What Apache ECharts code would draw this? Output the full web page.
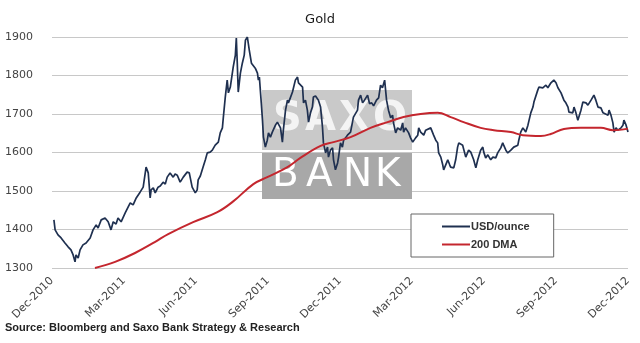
<!DOCTYPE html>
<html>
<head>
<meta charset="utf-8">
<script src="https://cdn.jsdelivr.net/npm/echarts@6/dist/echarts.min.js"></script>
<style>html,body{margin:0;padding:0;background:#fff;}#c{width:640px;height:343px;}</style>
</head>
<body>
<div id="c"></div>
<script>
// x positions are months after the Dec-2010 tick
var xLabels = ['Dec-2010','Mar-2011','Jun-2011','Sep-2011','Dec-2011','Mar-2012','Jun-2012','Sep-2012','Dec-2012'];
var yTicks = [1300,1400,1500,1600,1700,1800,1900];

var usdT = [0.08,0.13,0.25,0.38,0.46,0.54,0.67,0.79,0.88,0.96,1.00,1.09,1.17,1.29,1.42,1.50,1.59,1.71,1.84,1.92,
2.05,2.13,2.21,2.34,2.46,2.55,2.67,2.75,2.88,3.05,3.17,3.26,3.38,3.51,3.59,3.67,3.80,3.88,3.92,4.01,
4.09,4.13,4.22,4.30,4.42,4.51,4.63,4.72,4.80,4.92,5.05,5.13,5.22,5.34,5.47,5.55,5.63,5.72,5.84,5.97,
6.05,6.09,6.18,6.26,6.39,6.47,6.59,6.68,6.80,6.93,7.01,7.10,7.14,7.22,7.30,7.35,7.43,7.55,7.64,7.68,
7.72,7.76,7.85,7.93,8.01,8.06,8.14,8.22,8.31,8.39,8.47,8.56,8.60,8.64,8.72,8.77,8.81,8.89,8.97,9.02,
9.10,9.18,9.31,9.39,9.52,9.60,9.64,9.73,9.81,9.85,9.93,10.02,10.06,10.14,10.23,10.27,10.35,10.44,10.48,10.56,
10.64,10.69,10.77,10.85,10.89,10.98,11.06,11.10,11.19,11.27,11.31,11.40,11.48,11.52,11.60,11.69,11.73,11.81,11.90,11.94,
12.02,12.10,12.15,12.23,12.31,12.44,12.56,12.73,12.77,12.86,12.94,13.02,13.15,13.23,13.32,13.40,13.52,13.61,13.69,13.77,
13.86,13.90,13.94,14.02,14.11,14.19,14.23,14.32,14.40,14.53,14.61,14.65,14.73,14.86,14.94,15.03,15.07,15.15,15.24,15.28,
15.36,15.49,15.57,15.65,15.78,15.90,15.99,16.07,16.11,16.20,16.28,16.32,16.40,16.49,16.57,16.61,16.74,16.82,16.90,16.95,
17.03,17.11,17.24,17.36,17.45,17.53,17.57,17.66,17.74,17.86,17.95,17.99,18.07,18.16,18.28,18.37,18.49,18.57,18.70,18.78,
18.82,18.91,18.99,19.12,19.24,19.32,19.41,19.45,19.53,19.62,19.74,19.83,19.95,20.04,20.08,20.16,20.24,20.29,20.45,20.58,
20.66,20.79,20.91,21.00,21.08,21.21,21.33,21.41,21.50,21.54,21.62,21.70,21.75,21.83,21.91,21.96,22.04,22.12,22.25,22.33,
22.46,22.58,22.66,22.75,22.87,22.96,23.00,23.17,23.21,23.29,23.37,23.42,23.50,23.58,23.71,23.79,23.83,23.92,24.00];

var usdV = [1425,1399,1386,1378,1381,1365,1355,1347,1334,1316,1334,1326,1347,1360,1365,1360,1378,1399,1412,1404,
1425,1420,1430,1420,1399,1420,1414,1430,1420,1443,1458,1469,1464,1482,1477,1497,1510,1508,1562,1547,
1482,1503,1508,1495,1510,1513,1523,1518,1536,1547,1536,1544,1541,1523,1536,1539,1549,1547,1510,1495,
1503,1529,1539,1555,1581,1599,1601,1606,1619,1627,1651,1664,1692,1744,1788,1755,1770,1822,1853,1897,
1832,1757,1806,1832,1853,1892,1900,1866,1832,1835,1819,1806,1788,1796,1729,1684,1640,1614,1632,1651,
1640,1653,1671,1679,1664,1627,1658,1710,1736,1729,1742,1757,1762,1788,1796,1781,1783,1770,1729,1736,
1710,1679,1703,1718,1744,1747,1749,1736,1718,1666,1625,1599,1614,1588,1606,1612,1581,1555,1573,1588,
1625,1614,1632,1638,1645,1653,1692,1710,1736,1749,1729,1736,1749,1727,1729,1721,1736,1742,1775,1768,
1788,1783,1736,1710,1690,1697,1677,1651,1664,1658,1677,1653,1664,1651,1638,1627,1625,1638,1645,1664,
1653,1645,1658,1653,1664,1645,1632,1625,1599,1588,1568,1555,1560,1581,1568,1562,1560,1581,1614,1625,
1622,1619,1588,1606,1601,1599,1581,1560,1581,1606,1614,1601,1586,1594,1581,1588,1586,1599,1612,1625,
1619,1606,1599,1606,1614,1612,1619,1632,1653,1664,1653,1671,1703,1718,1731,1736,1762,1770,1768,1775,
1768,1781,1788,1781,1768,1755,1736,1729,1718,1705,1710,1703,1718,1703,1684,1679,1710,1731,1729,1723,
1736,1749,1736,1718,1716,1703,1705,1697,1710,1697,1677,1653,1664,1658,1664,1671,1684,1671,1653];

var dmaT = [1.79,2.63,3.46,4.30,4.84,5.88,6.89,7.55,8.39,8.97,9.81,10.35,11.19,11.73,12.44,13.27,13.98,14.65,15.36,16.07,
16.61,17.15,17.86,18.41,19.12,19.62,20.37,20.78,21.33,22.04,22.87,23.37,24.00];
var dmaV = [1300,1316,1339,1368,1388,1419,1445,1473,1518,1536,1562,1586,1617,1627,1640,1664,1679,1692,1700,1703,
1692,1679,1664,1658,1653,1645,1643,1648,1661,1664,1664,1658,1662];

function zip(a, b) { return a.map(function (v, i) { return [v, b[i]]; }); }

var chart = echarts.init(document.getElementById('c'), null, {renderer: 'canvas'});
var FONT = 'DejaVu Sans';
var WM = 'rgba(255,255,255,0.8)';
chart.setOption({
  animation: false,
  backgroundColor: '#ffffff',
  title: {
    text: 'Gold', left: 'center', top: 8,
    textStyle: {fontFamily: FONT, fontSize: 13, fontWeight: 'normal', color: '#1a1a1a'}
  },
  grid: {left: 52, right: 12, top: 37, bottom: 75, containLabel: false},
  xAxis: {
    type: 'value', min: 0, max: 24, interval: 3,
    axisLine: {show: false}, axisTick: {show: false}, splitLine: {show: false},
    axisLabel: {
      rotate: 45, margin: 11, fontFamily: FONT, fontSize: 11, color: '#444',
      formatter: function (v) { return xLabels[Math.round(v / 3)]; }
    }
  },
  yAxis: {
    type: 'value', min: yTicks[0], max: yTicks[yTicks.length - 1], interval: 100,
    axisLine: {show: false}, axisTick: {show: false},
    splitLine: {lineStyle: {color: '#c8c8c8', width: 1}},
    axisLabel: {margin: 19, fontFamily: FONT, fontSize: 11, color: '#444',
      formatter: function (v) { return String(v); }}
  },
  legend: {
    left: 411, top: 214, orient: 'vertical',
    padding: [7, 24, 7, 31], itemGap: 7,
    backgroundColor: '#fff', borderColor: '#666', borderWidth: 1,
    icon: 'rect', itemWidth: 28, itemHeight: 2,
    textStyle: {fontFamily: 'Liberation Sans', fontSize: 11, fontWeight: 'bold', color: '#333', padding: [0, 0, 0, -4]},
    data: ['USD/ounce', '200 DMA']
  },
  graphic: [
    {type: 'rect', z: 1, shape: {x: 262, y: 90, width: 150, height: 60}, style: {fill: '#c9c9c9'}},
    {type: 'rect', z: 1, shape: {x: 262, y: 153, width: 150, height: 46}, style: {fill: '#a8a8a8'}},
    {type: 'text', z: 1, left: 273, top: 100, style: {text: 'S', fill: WM, font: 'bold 40px "DejaVu Sans"'}},
    {type: 'text', z: 1, left: 305, top: 100, style: {text: 'A', fill: WM, font: 'bold 40px "DejaVu Sans"'}},
    {type: 'text', z: 1, left: 339, top: 100, style: {text: 'X', fill: WM, font: 'bold 40px "DejaVu Sans"'}},
    {type: 'text', z: 1, left: 373, top: 100, style: {text: 'O', fill: WM, font: 'bold 40px "DejaVu Sans"'}},
    {type: 'text', z: 1, left: 272, top: 156, style: {text: 'B', fill: '#ffffff', font: '39px "DejaVu Sans"'}},
    {type: 'text', z: 1, left: 306, top: 156, style: {text: 'A', fill: '#ffffff', font: '39px "DejaVu Sans"'}},
    {type: 'text', z: 1, left: 343, top: 156, style: {text: 'N', fill: '#ffffff', font: '39px "DejaVu Sans"'}},
    {type: 'text', z: 1, left: 375, top: 156, style: {text: 'K', fill: '#ffffff', font: '39px "DejaVu Sans"'}},
    {type: 'text', z: 5, left: 5, top: 322, style: {text: 'Source: Bloomberg and Saxo Bank Strategy & Research', fill: '#222', font: 'bold 11px "Liberation Sans"'}}
  ],
  series: [
    {
      name: 'USD/ounce', type: 'line', data: zip(usdT, usdV), showSymbol: false, symbol: 'none',
      lineStyle: {color: '#1f3050', width: 1.7}, itemStyle: {color: '#1f3050'}, z: 3
    },
    {
      name: '200 DMA', type: 'line', data: zip(dmaT, dmaV), showSymbol: false, symbol: 'none', smooth: 0.4,
      lineStyle: {color: '#c4262e', width: 2}, itemStyle: {color: '#c4262e'}, z: 4
    }
  ]
});
</script>
</body>
</html>
